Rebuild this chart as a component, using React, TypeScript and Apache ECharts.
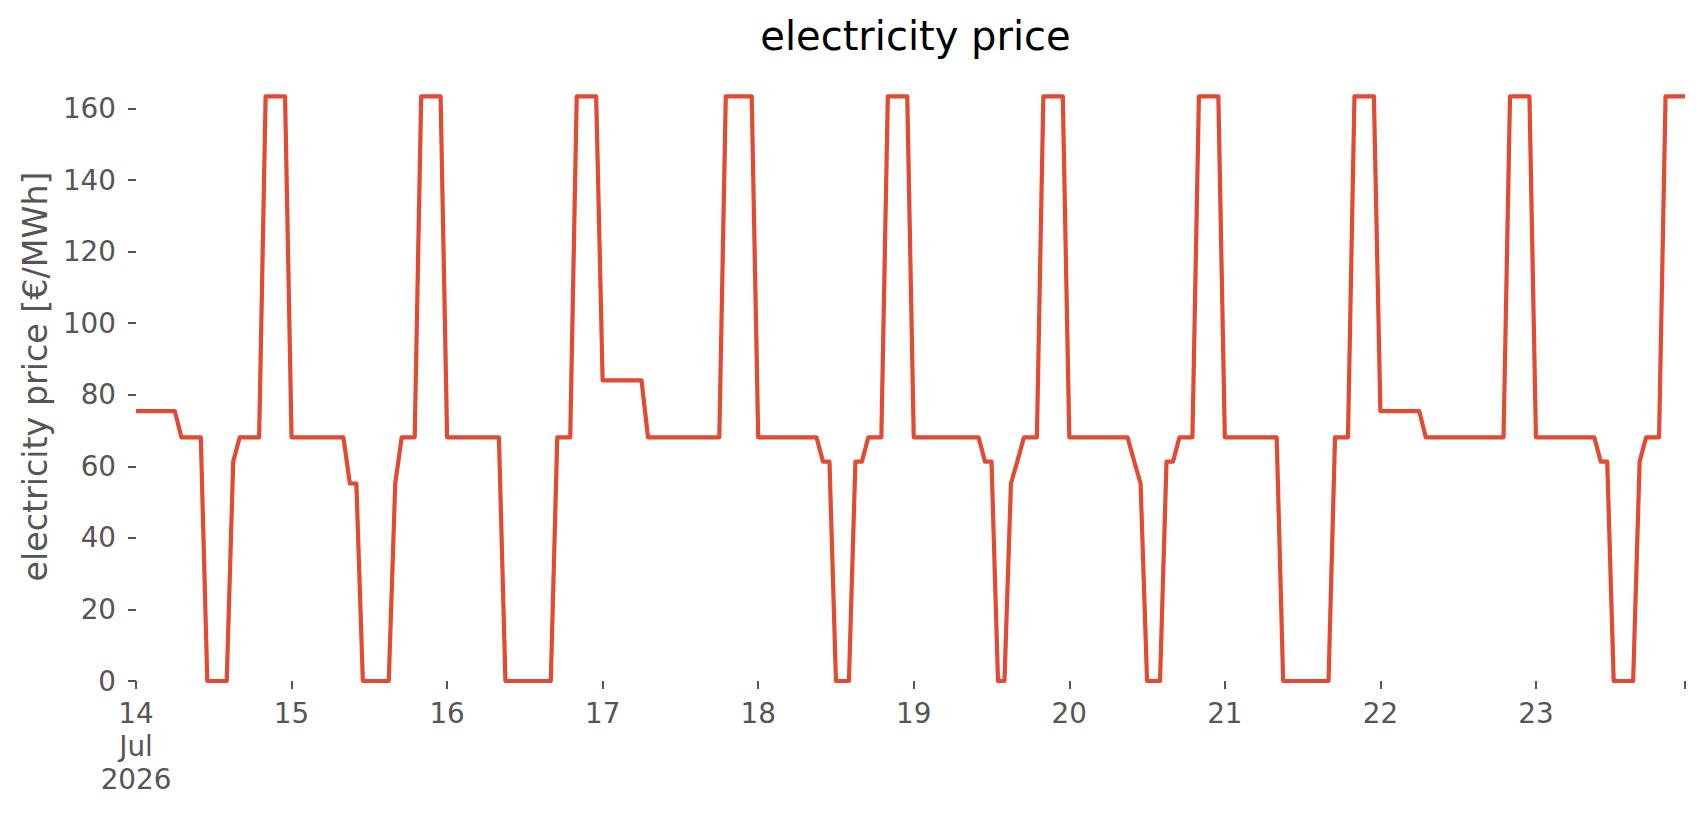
import React, { useEffect, useRef } from "react";
import * as echarts from "echarts";

// Hourly electricity price [€/MWh], 14 Jul 2026 00:00 … 23 Jul 2026 23:00
const day14 = [75.4, 75.4, 75.4, 75.4, 75.4, 75.4, 75.4, 68.1, 68.1, 68.1, 68.1, 0, 0, 0, 0, 61.3, 68.1, 68.1, 68.1, 68.1, 163.4, 163.4, 163.4, 163.4];
const day15 = [68.1, 68.1, 68.1, 68.1, 68.1, 68.1, 68.1, 68.1, 68.1, 55.2, 55.2, 0, 0, 0, 0, 0, 55.2, 68.1, 68.1, 68.1, 163.4, 163.4, 163.4, 163.4];
const day16 = [68.1, 68.1, 68.1, 68.1, 68.1, 68.1, 68.1, 68.1, 68.1, 0, 0, 0, 0, 0, 0, 0, 0, 68.1, 68.1, 68.1, 163.4, 163.4, 163.4, 163.4];
const day17 = [84.0, 84.0, 84.0, 84.0, 84.0, 84.0, 84.0, 68.1, 68.1, 68.1, 68.1, 68.1, 68.1, 68.1, 68.1, 68.1, 68.1, 68.1, 68.1, 163.4, 163.4, 163.4, 163.4, 163.4];
const day18 = [68.1, 68.1, 68.1, 68.1, 68.1, 68.1, 68.1, 68.1, 68.1, 68.1, 61.3, 61.3, 0, 0, 0, 61.3, 61.3, 68.1, 68.1, 68.1, 163.4, 163.4, 163.4, 163.4];
const day19 = [68.1, 68.1, 68.1, 68.1, 68.1, 68.1, 68.1, 68.1, 68.1, 68.1, 68.1, 61.3, 61.3, 0, 0, 55.2, 61.5, 68.1, 68.1, 68.1, 163.4, 163.4, 163.4, 163.4];
const day20 = [68.1, 68.1, 68.1, 68.1, 68.1, 68.1, 68.1, 68.1, 68.1, 68.1, 61.5, 55.2, 0, 0, 0, 61.3, 61.3, 68.1, 68.1, 68.1, 163.4, 163.4, 163.4, 163.4];
const day21 = [68.1, 68.1, 68.1, 68.1, 68.1, 68.1, 68.1, 68.1, 68.1, 0, 0, 0, 0, 0, 0, 0, 0, 68.1, 68.1, 68.1, 163.4, 163.4, 163.4, 163.4];
const day22 = [75.4, 75.4, 75.4, 75.4, 75.4, 75.4, 75.4, 68.1, 68.1, 68.1, 68.1, 68.1, 68.1, 68.1, 68.1, 68.1, 68.1, 68.1, 68.1, 68.1, 163.4, 163.4, 163.4, 163.4];
const day23 = [68.1, 68.1, 68.1, 68.1, 68.1, 68.1, 68.1, 68.1, 68.1, 68.1, 61.3, 61.3, 0, 0, 0, 0, 61.3, 68.1, 68.1, 68.1, 163.4, 163.4, 163.4, 163.4];

const dayNumbers = [14, 15, 16, 17, 18, 19, 20, 21, 22, 23];
const xTickLabels = ["14\nJul\n2026", "15", "16", "17", "18", "19", "20", "21", "22", "23"];
const dailyPrices = [day14, day15, day16, day17, day18, day19, day20, day21, day22, day23];

const TITLE = "electricity price";
const Y_LABEL = "electricity price [€/MWh]";

const categories: string[] = [];
const prices: number[] = [];
const labelByCategory: Record<string, string> = {};
dayNumbers.forEach((d, di) => {
  dailyPrices[di].forEach((v, h) => {
    const c = `2026-07-${d} ${String(h).padStart(2, "0")}:00`;
    categories.push(c);
    prices.push(v);
    if (h === 0) labelByCategory[c] = xTickLabels[di];
  });
});
const lastIndex = categories.length - 1;

const FONT = "DejaVu Sans";

export default function App() {
  const ref = useRef<HTMLDivElement>(null);
  useEffect(() => {
    document.body.style.margin = "0";
    if (!ref.current) return;
    const chart = echarts.init(ref.current, null, { renderer: "svg" });
    chart.setOption({
      animation: false,
      backgroundColor: "#ffffff",
      title: {
        text: TITLE,
        left: 910.5,
        top: 11,
        textAlign: "center",
        textStyle: { fontSize: 40, fontWeight: "normal", color: "#000000", fontFamily: FONT },
      },
      graphic: [
        {
          type: "text",
          x: 35,
          y: 376.5,
          rotation: Math.PI / 2,
          style: {
            text: Y_LABEL,
            fontSize: 33.3,
            fontFamily: FONT,
            fill: "#555555",
            align: "center",
            verticalAlign: "middle",
            textAlign: "center",
            textVerticalAlign: "middle",
          },
        },
      ],
      grid: { left: 136, right: 21, top: 108.5, bottom: 134, containLabel: false },
      xAxis: {
        type: "category",
        data: categories,
        boundaryGap: false,
        offset: 5,
        axisLine: { show: false },
        axisTick: {
          show: true,
          interval: (i: number) => i % 24 === 0 || i === lastIndex,
          length: 8,
          lineStyle: { color: "#555555", width: 2 },
        },
        axisLabel: {
          interval: (i: number) => i % 24 === 0,
          formatter: (v: string) => labelByCategory[v] ?? "",
          color: "#555555",
          fontSize: 27.8,
          fontFamily: FONT,
          lineHeight: 33,
          margin: 11,
        },
        splitLine: { show: false },
      },
      yAxis: {
        type: "value",
        min: 0,
        max: 160,
        interval: 20,
        axisLine: { show: false },
        axisTick: { show: true, length: 8, lineStyle: { color: "#555555", width: 2 } },
        axisLabel: { color: "#555555", fontSize: 27.8, fontFamily: FONT, margin: 20 },
        splitLine: { show: false },
      },
      series: [
        {
          type: "line",
          data: prices,
          showSymbol: false,
          symbol: "none",
          clip: false,
          lineStyle: { color: "#E24A33", width: 4.2, join: "round" },
        },
      ],
    });
    return () => chart.dispose();
  }, []);
  return <div ref={ref} style={{ width: 1706, height: 815 }} />;
}
